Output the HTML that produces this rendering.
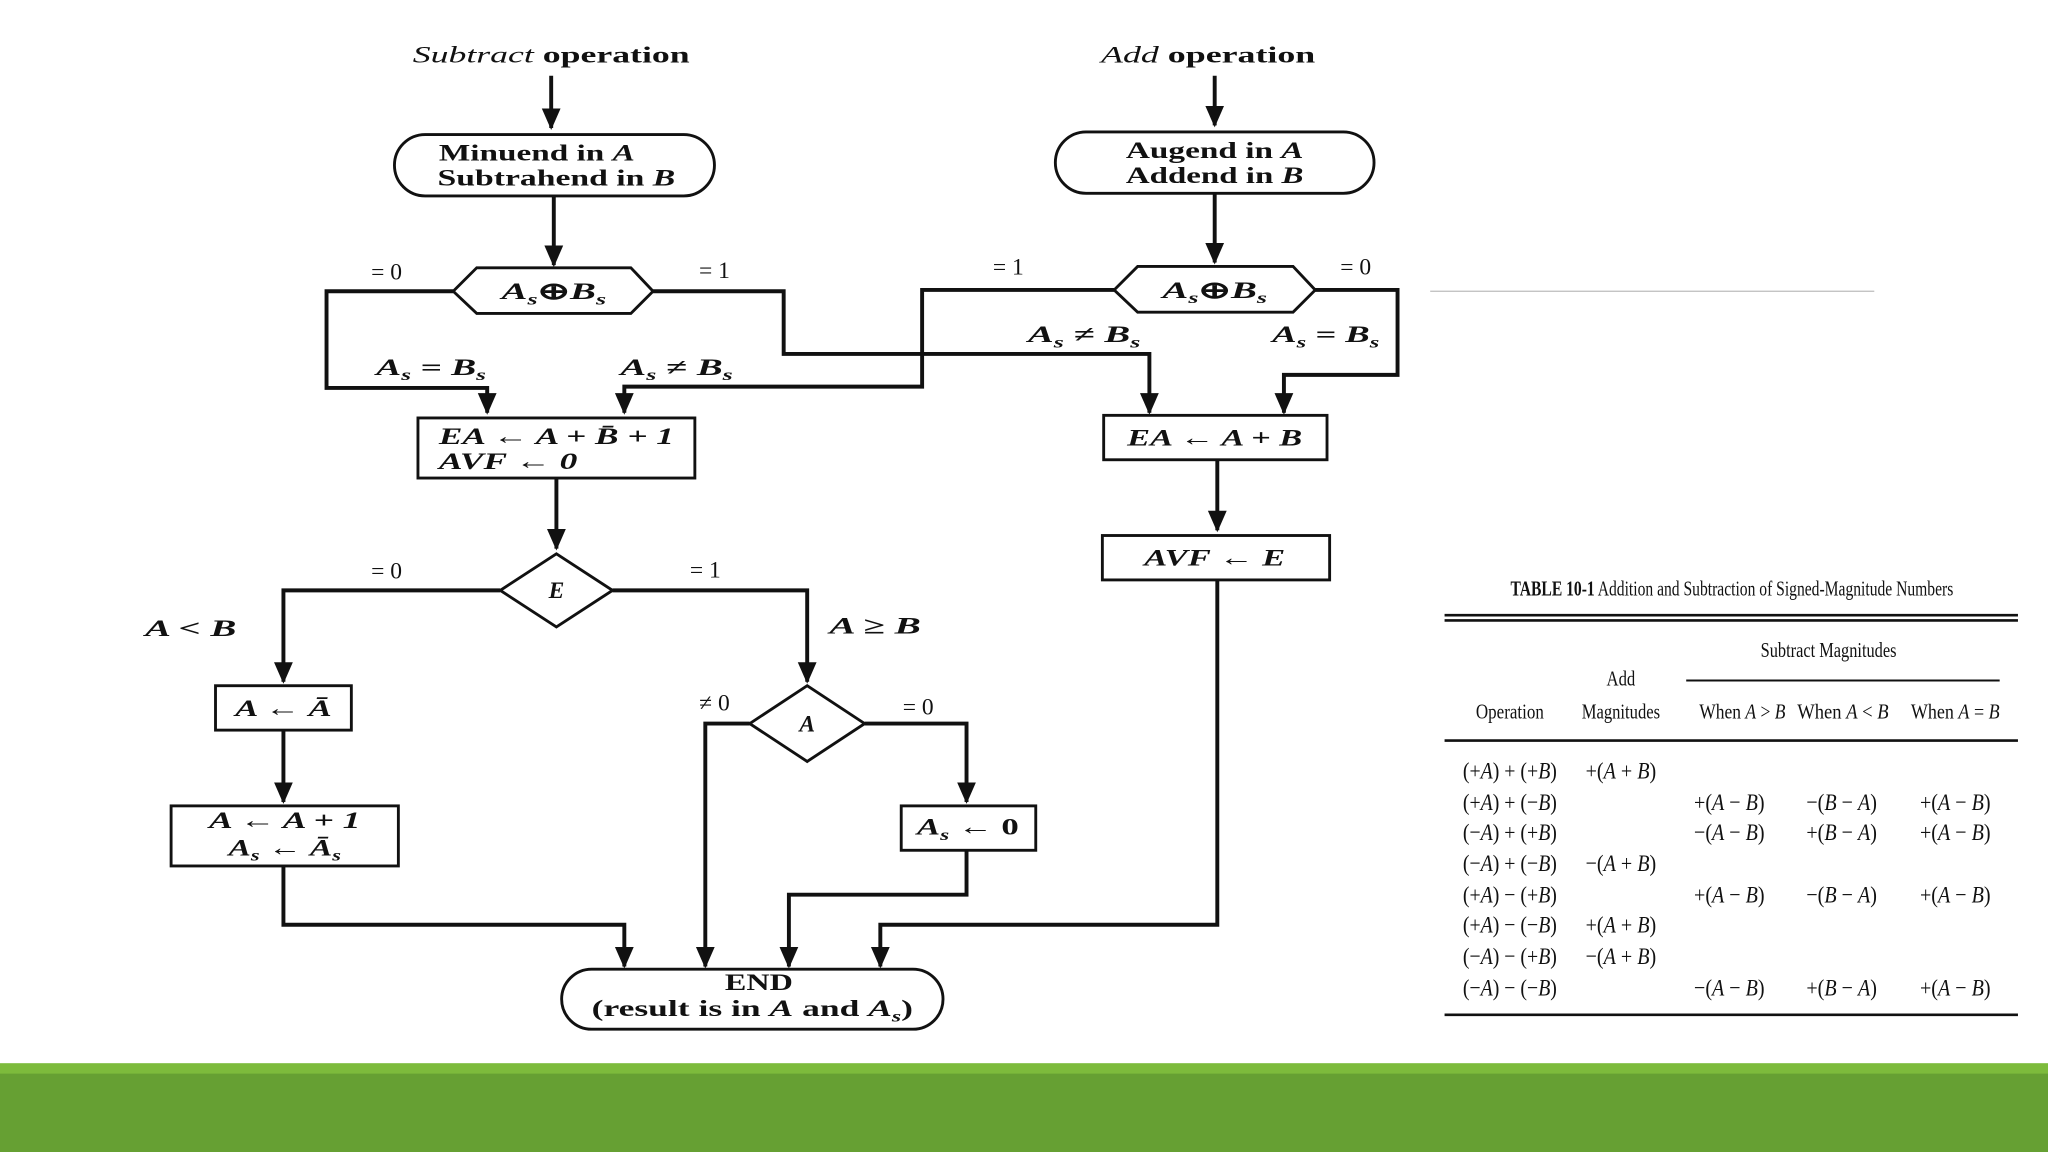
<!DOCTYPE html>
<html><head><meta charset="utf-8"><style>
html,body{margin:0;padding:0;background:#fff;}
svg{display:block;}
text{font-family:"Liberation Serif",serif;fill:#111;}
.f{font-size:18px;font-weight:bold;}
.i{font-style:italic;}
.t{font-size:16px;}
</style></head><body>
<svg width="2048" height="1152" viewBox="0 0 1568 882" preserveAspectRatio="none" xmlns="http://www.w3.org/2000/svg">
<defs><marker id="a" markerWidth="6" markerHeight="6" refX="5" refY="3" orient="auto" markerUnits="strokeWidth"><path d="M0,0.6 L5.5,3 L0,5.4 Z" fill="#111"/></marker></defs>
<rect width="1568" height="882" fill="#fff"/>
<rect y="814" width="1568" height="9" fill="#7dbb3c"/>
<rect y="822" width="1568" height="60" fill="#66a033"/>
<line x1="1095" y1="223" x2="1435" y2="223" stroke="#bbb" stroke-width="1"/>
<g stroke="#111" stroke-width="3" fill="none">
<path d="M422,58 V98" marker-end="url(#a)"/>
<path d="M424,150 V203" marker-end="url(#a)"/>
<path d="M930,58 V96" marker-end="url(#a)"/>
<path d="M930,148 V201" marker-end="url(#a)"/>
<path d="M347,223 H250 V297 H373 V316" marker-end="url(#a)"/>
<path d="M500,223 H600 V271 H880 V316" marker-end="url(#a)"/>
<path d="M853,222 H706 V296 H478 V316" marker-end="url(#a)"/>
<path d="M1007,222 H1070 V287 H983 V316" marker-end="url(#a)"/>
<path d="M426,366 V420" marker-end="url(#a)"/>
<path d="M383,452 H217 V522" marker-end="url(#a)"/>
<path d="M469,452 H618 V522" marker-end="url(#a)"/>
<path d="M217,559 V614" marker-end="url(#a)"/>
<path d="M217,663 V708 H478 V740" marker-end="url(#a)"/>
<path d="M574,554 H540 V740" marker-end="url(#a)"/>
<path d="M662,554 H740 V614" marker-end="url(#a)"/>
<path d="M740,651 V685 H604 V740" marker-end="url(#a)"/>
<path d="M932,352 V406" marker-end="url(#a)"/>
<path d="M932,444 V708 H674 V740" marker-end="url(#a)"/>
</g>
<g stroke="#111" stroke-width="2.2" fill="#fff">
<rect x="302" y="103" width="245" height="47" rx="23.5"/>
<rect x="808" y="101" width="244" height="47" rx="23.5"/>
<polygon points="347,223 365,205 483,205 500,223 483,240 365,240"/>
<polygon points="853,222 871,204 990,204 1007,222 990,239 871,239"/>
<rect x="320" y="320" width="212" height="46"/>
<rect x="845" y="318" width="171" height="34"/>
<rect x="844" y="410" width="174" height="34"/>
<polygon points="426,424 469,452 426,480 383,452"/>
<polygon points="618,525 662,554 618,583 574,554"/>
<rect x="165" y="525" width="104" height="34"/>
<rect x="131" y="617" width="174" height="46"/>
<rect x="690" y="617" width="103" height="34"/>
<rect x="430" y="742" width="292" height="46" rx="23"/>
</g>
<g class="f" text-anchor="middle">
<text x="422" y="48" textLength="212" lengthAdjust="spacingAndGlyphs"><tspan class="i" font-weight="normal">Subtract</tspan> operation</text>
<text x="925" y="48" textLength="164" lengthAdjust="spacingAndGlyphs"><tspan class="i" font-weight="normal">Add</tspan> operation</text>
<text x="411" y="123" textLength="150" lengthAdjust="spacingAndGlyphs">Minuend in <tspan class="i">A</tspan></text>
<text x="426" y="142" textLength="182" lengthAdjust="spacingAndGlyphs">Subtrahend in <tspan class="i">B</tspan></text>
<text x="930" y="121" textLength="136" lengthAdjust="spacingAndGlyphs">Augend in <tspan class="i">A</tspan></text>
<text x="930" y="140" textLength="136" lengthAdjust="spacingAndGlyphs">Addend in <tspan class="i">B</tspan></text>
<text x="424" y="229" class="i" textLength="80" lengthAdjust="spacingAndGlyphs">A<tspan font-size="12" dy="4">s</tspan><tspan dy="-4" font-style="normal">⊕</tspan>B<tspan font-size="12" dy="4">s</tspan></text>
<text x="930" y="228" class="i" textLength="80" lengthAdjust="spacingAndGlyphs">A<tspan font-size="12" dy="4">s</tspan><tspan dy="-4" font-style="normal">⊕</tspan>B<tspan font-size="12" dy="4">s</tspan></text>
<text x="296" y="214" font-weight="normal">= 0</text>
<text x="547" y="213" font-weight="normal">= 1</text>
<text x="772" y="210" font-weight="normal">= 1</text>
<text x="1038" y="210" font-weight="normal">= 0</text>
<text x="330" y="287" class="i" textLength="84" lengthAdjust="spacingAndGlyphs">A<tspan font-size="12" dy="4">s</tspan><tspan dy="-4"> = B</tspan><tspan font-size="12" dy="4">s</tspan></text>
<text x="518" y="287" class="i" textLength="86" lengthAdjust="spacingAndGlyphs">A<tspan font-size="12" dy="4">s</tspan><tspan dy="-4"> ≠ B</tspan><tspan font-size="12" dy="4">s</tspan></text>
<text x="830" y="262" class="i" textLength="86" lengthAdjust="spacingAndGlyphs">A<tspan font-size="12" dy="4">s</tspan><tspan dy="-4"> ≠ B</tspan><tspan font-size="12" dy="4">s</tspan></text>
<text x="1015" y="262" class="i" textLength="82" lengthAdjust="spacingAndGlyphs">A<tspan font-size="12" dy="4">s</tspan><tspan dy="-4"> = B</tspan><tspan font-size="12" dy="4">s</tspan></text>
<text x="426" y="340" class="i" textLength="180" lengthAdjust="spacingAndGlyphs">EA ← A + B̄ + 1</text>
<text x="336" y="359" class="i" text-anchor="start" textLength="106" lengthAdjust="spacingAndGlyphs">AVF ← 0</text>
<text x="930" y="341" class="i" textLength="134" lengthAdjust="spacingAndGlyphs">EA ← A + B</text>
<text x="930" y="433" class="i" textLength="108" lengthAdjust="spacingAndGlyphs">AVF ← E</text>
<text x="426" y="458" class="i">E</text>
<text x="296" y="443" font-weight="normal">= 0</text>
<text x="540" y="442" font-weight="normal">= 1</text>
<text x="146" y="487" class="i" textLength="70" lengthAdjust="spacingAndGlyphs">A &lt; B</text>
<text x="670" y="485" class="i" textLength="70" lengthAdjust="spacingAndGlyphs">A ≥ B</text>
<text x="217" y="548" class="i" textLength="74" lengthAdjust="spacingAndGlyphs">A ← Ā</text>
<text x="218" y="634" class="i" textLength="116" lengthAdjust="spacingAndGlyphs">A ← A + 1</text>
<text x="218" y="655" class="i" textLength="86" lengthAdjust="spacingAndGlyphs">A<tspan font-size="12" dy="4">s</tspan><tspan dy="-4"> ← Ā</tspan><tspan font-size="12" dy="4">s</tspan></text>
<text x="618" y="560" class="i">A</text>
<text x="547" y="544" font-weight="normal">≠ 0</text>
<text x="703" y="547" font-weight="normal">= 0</text>
<text x="741" y="639" class="i" textLength="78" lengthAdjust="spacingAndGlyphs">A<tspan font-size="12" dy="4">s</tspan><tspan dy="-4" font-style="normal"> ← 0</tspan></text>
<text x="581" y="758" textLength="52" lengthAdjust="spacingAndGlyphs">END</text>
<text x="576" y="778" textLength="246" lengthAdjust="spacingAndGlyphs">(result is in <tspan class="i">A</tspan> and <tspan class="i">A</tspan><tspan font-size="12" dy="4" class="i">s</tspan><tspan dy="-4">)</tspan></text>
</g>
<g class="t" text-anchor="middle">
<text x="1326" y="456" textLength="339" lengthAdjust="spacingAndGlyphs"><tspan font-weight="bold">TABLE 10-1</tspan> Addition and Subtraction of Signed-Magnitude Numbers</text>
<text x="1400" y="503" textLength="104" lengthAdjust="spacingAndGlyphs">Subtract Magnitudes</text>
<text x="1241" y="525" textLength="22" lengthAdjust="spacingAndGlyphs">Add</text>
<text x="1241" y="550" textLength="60" lengthAdjust="spacingAndGlyphs">Magnitudes</text>
<text x="1156" y="550" textLength="52" lengthAdjust="spacingAndGlyphs">Operation</text>
<text x="1334" y="550" textLength="66" lengthAdjust="spacingAndGlyphs">When <tspan class="i">A</tspan> &gt; <tspan class="i">B</tspan></text>
<text x="1411" y="550" textLength="70" lengthAdjust="spacingAndGlyphs">When <tspan class="i">A</tspan> &lt; <tspan class="i">B</tspan></text>
<text x="1497" y="550" textLength="68" lengthAdjust="spacingAndGlyphs">When <tspan class="i">A</tspan> = <tspan class="i">B</tspan></text>
</g>
<g stroke="#111" fill="none">
<line x1="1106" y1="471" x2="1545" y2="471" stroke-width="2"/>
<line x1="1106" y1="475" x2="1545" y2="475" stroke-width="2"/>
<line x1="1291" y1="521" x2="1531" y2="521" stroke-width="1.5"/>
<line x1="1106" y1="567" x2="1545" y2="567" stroke-width="2"/>
<line x1="1106" y1="777" x2="1545" y2="777" stroke-width="2"/>
</g>
<g font-size="18" text-anchor="middle" font-family="Liberation Serif, serif" lengthAdjust="spacingAndGlyphs">
<text x="1156" y="596" textLength="72" lengthAdjust="spacingAndGlyphs">(+<tspan class="i">A</tspan>) + (+<tspan class="i">B</tspan>)</text>
<text x="1156" y="620" textLength="72" lengthAdjust="spacingAndGlyphs">(+<tspan class="i">A</tspan>) + (−<tspan class="i">B</tspan>)</text>
<text x="1156" y="643" textLength="72" lengthAdjust="spacingAndGlyphs">(−<tspan class="i">A</tspan>) + (+<tspan class="i">B</tspan>)</text>
<text x="1156" y="667" textLength="72" lengthAdjust="spacingAndGlyphs">(−<tspan class="i">A</tspan>) + (−<tspan class="i">B</tspan>)</text>
<text x="1156" y="691" textLength="72" lengthAdjust="spacingAndGlyphs">(+<tspan class="i">A</tspan>) − (+<tspan class="i">B</tspan>)</text>
<text x="1156" y="714" textLength="72" lengthAdjust="spacingAndGlyphs">(+<tspan class="i">A</tspan>) − (−<tspan class="i">B</tspan>)</text>
<text x="1156" y="738" textLength="72" lengthAdjust="spacingAndGlyphs">(−<tspan class="i">A</tspan>) − (+<tspan class="i">B</tspan>)</text>
<text x="1156" y="762" textLength="72" lengthAdjust="spacingAndGlyphs">(−<tspan class="i">A</tspan>) − (−<tspan class="i">B</tspan>)</text>
<text x="1241" y="596" textLength="54" lengthAdjust="spacingAndGlyphs">+(<tspan class="i">A</tspan> + <tspan class="i">B</tspan>)</text>
<text x="1241" y="667" textLength="54" lengthAdjust="spacingAndGlyphs">−(<tspan class="i">A</tspan> + <tspan class="i">B</tspan>)</text>
<text x="1241" y="714" textLength="54" lengthAdjust="spacingAndGlyphs">+(<tspan class="i">A</tspan> + <tspan class="i">B</tspan>)</text>
<text x="1241" y="738" textLength="54" lengthAdjust="spacingAndGlyphs">−(<tspan class="i">A</tspan> + <tspan class="i">B</tspan>)</text>
<text x="1324" y="620" textLength="54" lengthAdjust="spacingAndGlyphs">+(<tspan class="i">A</tspan> − <tspan class="i">B</tspan>)</text>
<text x="1324" y="643" textLength="54" lengthAdjust="spacingAndGlyphs">−(<tspan class="i">A</tspan> − <tspan class="i">B</tspan>)</text>
<text x="1324" y="691" textLength="54" lengthAdjust="spacingAndGlyphs">+(<tspan class="i">A</tspan> − <tspan class="i">B</tspan>)</text>
<text x="1324" y="762" textLength="54" lengthAdjust="spacingAndGlyphs">−(<tspan class="i">A</tspan> − <tspan class="i">B</tspan>)</text>
<text x="1410" y="620" textLength="54" lengthAdjust="spacingAndGlyphs">−(<tspan class="i">B</tspan> − <tspan class="i">A</tspan>)</text>
<text x="1410" y="643" textLength="54" lengthAdjust="spacingAndGlyphs">+(<tspan class="i">B</tspan> − <tspan class="i">A</tspan>)</text>
<text x="1410" y="691" textLength="54" lengthAdjust="spacingAndGlyphs">−(<tspan class="i">B</tspan> − <tspan class="i">A</tspan>)</text>
<text x="1410" y="762" textLength="54" lengthAdjust="spacingAndGlyphs">+(<tspan class="i">B</tspan> − <tspan class="i">A</tspan>)</text>
<text x="1497" y="620" textLength="54" lengthAdjust="spacingAndGlyphs">+(<tspan class="i">A</tspan> − <tspan class="i">B</tspan>)</text>
<text x="1497" y="643" textLength="54" lengthAdjust="spacingAndGlyphs">+(<tspan class="i">A</tspan> − <tspan class="i">B</tspan>)</text>
<text x="1497" y="691" textLength="54" lengthAdjust="spacingAndGlyphs">+(<tspan class="i">A</tspan> − <tspan class="i">B</tspan>)</text>
<text x="1497" y="762" textLength="54" lengthAdjust="spacingAndGlyphs">+(<tspan class="i">A</tspan> − <tspan class="i">B</tspan>)</text>
</g>
</svg>
</body></html>
